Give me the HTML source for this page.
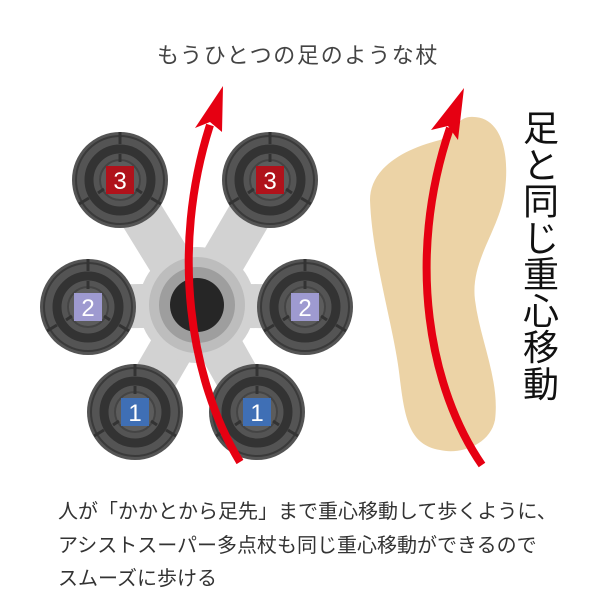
<!DOCTYPE html>
<html><head><meta charset="utf-8"><style>
body{margin:0;background:#fff;width:600px;height:600px;overflow:hidden;position:relative;font-family:"Noto Sans CJK JP",sans-serif;color:#333}
.t{position:absolute;white-space:nowrap}
</style></head><body>
<div class="t" style="left:157px;top:38px;font-size:22px;letter-spacing:1.7px;color:#444">もうひとつの足のような杖</div>
<svg width="600" height="600" style="position:absolute;left:0;top:0">
<defs>
<g id="w">
<circle r="48" fill="#545454"/>
<circle r="44" fill="none" stroke="#3a3a3a" stroke-width="2"/>
<circle r="31" fill="none" stroke="#333" stroke-width="9"/>
<circle r="21" fill="#5c5c5c"/>
<circle r="20" fill="none" stroke="#444" stroke-width="2"/>
<g stroke="#333" stroke-width="3">
<line x1="0" y1="-48" x2="0" y2="-36"/><line x1="41" y1="24" x2="31" y2="18"/><line x1="-41" y1="24" x2="-31" y2="18"/>
<line x1="0" y1="-26" x2="0" y2="-18"/><line x1="22" y1="13" x2="16" y2="9"/><line x1="-22" y1="13" x2="-16" y2="9"/>
</g>
</g>
</defs>
<g stroke="#d2d2d2" stroke-width="44" stroke-linecap="round">
<line x1="197" y1="305" x2="120" y2="180"/><line x1="197" y1="305" x2="270" y2="180"/>
<line x1="197" y1="305" x2="88" y2="307"/><line x1="197" y1="305" x2="305" y2="307"/>
<line x1="197" y1="305" x2="135" y2="412"/><line x1="197" y1="305" x2="257" y2="412"/>
</g>
<circle cx="197" cy="305" r="58" fill="#d2d2d2"/>
<circle cx="197" cy="305" r="48" fill="#bdbdbd"/>
<circle cx="197" cy="305" r="38" fill="#9e9e9e"/>
<circle cx="197" cy="305" r="27" fill="#262626"/>
<use href="#w" x="120" y="180"/><use href="#w" x="270" y="180"/>
<use href="#w" x="88" y="307"/><use href="#w" x="305" y="307"/>
<use href="#w" x="135" y="412"/><use href="#w" x="257" y="412"/>
<g font-family="Liberation Sans,sans-serif" font-size="24" fill="#fff" text-anchor="middle">
<rect x="106" y="166" width="28" height="28" fill="#b0121b"/><text x="120" y="189">3</text>
<rect x="256" y="166" width="28" height="28" fill="#b0121b"/><text x="270" y="189">3</text>
<rect x="74" y="293" width="28" height="28" fill="#9e9ad0"/><text x="88" y="316">2</text>
<rect x="291" y="293" width="28" height="28" fill="#9e9ad0"/><text x="305" y="316">2</text>
<rect x="121" y="398" width="28" height="28" fill="#3f6fb5"/><text x="135" y="421">1</text>
<rect x="243" y="398" width="28" height="28" fill="#3f6fb5"/><text x="257" y="421">1</text>
</g>
<path d="M240 462 C 190 380 170 250 210 125" fill="none" stroke="#e60012" stroke-width="8"/>
<polygon points="223,86 195,128 210,122 222,132" fill="#e60012"/>
<path d="M470 117 C 500 115 510 150 505 190 C 500 230 470 260 475 300 C 480 340 500 380 495 420 C 490 445 460 455 440 450 C 410 445 405 420 400 380 C 395 330 372 260 370 200 C 370 170 400 150 440 140 C 455 135 455 118 470 117 Z" fill="#ecd3a6"/>
<path d="M482 465 C 430 390 405 260 450 128" fill="none" stroke="#e60012" stroke-width="8"/>
<polygon points="464,88 431,130 448,126 458,140" fill="#e60012"/>
</svg>
<div class="t" style="left:523px;top:108px;width:40px;font-size:36px;line-height:36.5px;white-space:normal;color:#111">足と同じ重心移動</div>
<div class="t" style="left:58px;top:493px;font-size:20px;line-height:33.5px;letter-spacing:0;color:#333">人が「かかとから足先」まで重心移動して歩くように、<br>アシストスーパー多点杖も同じ重心移動ができるので<br>スムーズに歩ける</div>
</body></html>
